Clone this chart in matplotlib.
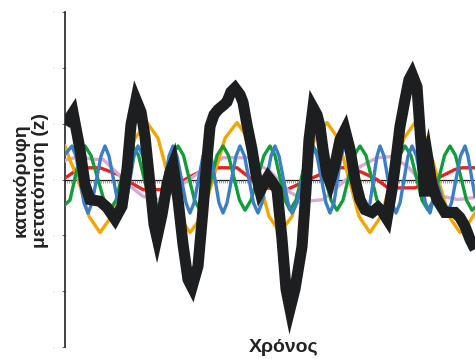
import matplotlib
matplotlib.use("Agg")
import matplotlib.pyplot as plt
import numpy as np

# time axis runs 0..410, vertical displacement in tick units (-3..3)
BLUE_T = [0, 7, 11, 15, 19, 23, 27, 31.5, 36, 40, 44, 48.5, 53, 57, 61, 65, 69, 73,
          78, 82.5, 87, 92, 96, 100, 104, 108, 112, 116.5, 121, 125, 129, 133.5, 138, 142,
          146, 150, 154, 158, 162, 166.5, 171, 175, 179.5, 184, 188.5, 193, 197, 201.5, 206, 210,
          214, 218.5, 223, 227, 232, 237.5, 243, 248, 252, 256.5, 261, 265, 269, 272.5, 276, 280,
          285.5, 291, 296.5, 302, 305, 308.5, 312, 315, 319, 323, 327, 331, 335, 339, 343, 347,
          351.5, 356, 360.5, 365, 369, 373, 377, 382, 386.5, 391, 395.5, 400, 403, 407, 410]
BLUE_Z = [0.45, 0.6, 0.42, 0, -0.42, -0.6, -0.42, 0, 0.42, 0.6, 0.42, 0, -0.42, -0.6, -0.42, 0, 0.42, 0.6,
          0.42, 0, -0.42, -0.6, -0.42, 0, 0.42, 0.6, 0.42, 0, -0.42, -0.6, -0.42, 0, 0.42, 0.6,
          0.42, 0, -0.42, -0.6, -0.42, 0, 0.42, 0.6, 0.42, 0, -0.42, -0.6, -0.42, 0, 0.42, 0.6,
          0.42, 0, -0.42, -0.6, -0.42, 0, 0.42, 0.6, 0.42, 0, -0.42, -0.6, -0.42, 0, 0.42, 0.6,
          0.42, 0, -0.42, -0.6, -0.42, 0, 0.42, 0.6, 0.42, 0, -0.42, -0.6, -0.42, 0, 0.42, 0.6,
          0.42, 0, -0.42, -0.6, -0.3, -0.1, -0.35, -0.6, -0.42, 0, 0.42, 0.6, 0.42, 0, -0.3]

GREEN_T = [0, 5, 10, 15, 20, 26, 32.5, 39, 45, 51, 56.5, 62, 68, 73.5, 79, 84.5, 90,
           96, 101.5, 107, 113, 118.5, 124, 129.5, 135, 141, 146.5, 152, 158, 163.5, 169, 174.5, 180,
           186, 192.5, 199, 205, 210, 215, 220, 225, 231, 236.5, 242, 248, 254, 260, 266, 272,
           278, 283.5, 289, 295, 301, 306.5, 312, 318, 323.5, 329, 334.5, 340, 346, 351.5, 357, 363,
           368.5, 374, 379.5, 385, 390.5, 396, 401.5, 407, 410]
GREEN_Z = [-0.45, -0.37, 0.03, 0.43, 0.6, 0.43, 0.03, -0.37, -0.55, -0.37, 0.03, 0.43, 0.6, 0.43, 0.03, -0.37, -0.55,
           -0.37, 0.03, 0.43, 0.6, 0.43, 0.03, -0.37, -0.55, -0.37, 0.03, 0.43, 0.6, 0.43, 0.03, -0.37, -0.55,
           -0.37, 0.03, 0.43, 0.6, 0.43, 0.03, -0.37, -0.55, -0.37, 0.03, 0.43, 0.6, 0.43, 0.03, -0.37, -0.55,
           -0.37, 0.03, 0.43, 0.6, 0.43, 0.03, -0.37, -0.55, -0.37, 0.03, 0.43, 0.6, 0.43, 0.03, -0.37, -0.55,
           -0.37, 0.03, 0.43, 0.6, 0.43, 0.03, -0.37, -0.55, -0.5]

ORANGE_T = [0, 6, 12.5, 24, 35, 46.5, 58.5, 70, 82, 93, 103.5, 114, 125, 137, 148.5, 160, 172,
            183, 193.5, 204, 215, 227, 238.5, 250, 262, 273, 283.5, 294, 305, 316, 327.5, 339, 350,
            361, 372.5, 384, 395, 403, 410]
ORANGE_Z = [0.6, 0.3, 0.04, -0.66, -0.95, -0.66, 0.04, 0.74, 1.02, 0.74, 0.04, -0.66, -0.95, -0.66, 0.04, 0.74, 1.02,
            0.74, 0.04, -0.66, -0.95, -0.66, 0.04, 0.74, 1.02, 0.74, 0.04, -0.66, -0.95, -0.66, 0.04, 0.74, 1.02,
            0.74, 0.04, -0.66, -0.95, -0.8, -0.6]

RED_T = [0, 2, 15, 35, 53, 65, 78, 95, 100, 115, 125, 133, 153, 172, 187, 200, 222, 238, 255,
         275, 285, 298, 312, 323, 350, 370, 390, 397, 410]
RED_Z = [0.03, 0.05, 0.21, 0.21, 0.09, -0.05, -0.18, -0.18, -0.18, -0.05, 0.05, 0.12, 0.21, 0.21, 0.0, -0.15, -0.18,
         -0.05, 0.09, 0.21, 0.21, 0.12, 0.0, -0.15, -0.15, 0.0, 0.18, 0.21, 0.21]

PINK_T = [0, 2, 15, 28, 38, 52, 65, 78, 92, 100, 120, 143, 158, 183, 197, 205, 225, 242, 258,
          278, 295, 312, 327, 343, 360, 377, 393, 410]
PINK_Z = [0.33, 0.36, 0.41, 0.36, 0.36, 0.12, -0.12, -0.3, -0.36, -0.3, -0.05, 0.23, 0.39, 0.39, 0.23, 0.15,
          -0.23, -0.39, -0.36, -0.05, 0.23, 0.39, 0.41, 0.23, -0.12, -0.3, -0.36, -0.32]

TOTAL_T = [0, 8, 15, 20, 25, 35, 42, 50, 57, 62, 66, 71, 76, 80, 85, 89, 92, 97, 102, 105,
           108, 113, 118, 123, 127, 133, 138, 142, 145, 149, 153, 159, 162, 166, 170, 175, 178, 182,
           187, 191, 195, 200, 203, 207, 212, 217, 221, 225, 230, 237, 241, 244, 248, 252, 255, 258,
           262, 265, 270, 275, 280, 285, 290, 295, 300, 307, 313, 317, 322, 327, 331, 335, 340, 344,
           347, 352, 355, 359, 360, 362, 363, 367, 372, 380, 390, 395, 400, 405, 410]
TOTAL_Z = [0.98, 1.2, 0.54, -0.09, -0.36, -0.39, -0.5, -0.71, -0.48, 0.18, 0.98, 1.43, 1.21, 0.77, -0.09,
           -0.8, -1.04, -0.63, -0.09, 0.13, 0.27, -0.36, -1.16, -1.79, -1.93, -1.55, -0.54, 0.36, 0.95,
           1.16, 1.25, 1.34, 1.39, 1.57, 1.64, 1.52, 1.38, 0.98, 0.54, 0.09, -0.21, -0.04, 0.05, -0.04,
           -0.18, -1.07, -1.96, -2.32, -1.96, -1.2, -0.18, 0.71, 1.29, 1.16, 0.95, 0.54, 0.09, -0.05,
           0.27, 0.71, 0.89, 0.54, 0.0, -0.36, -0.54, -0.59, -0.5, -0.57, -0.71, -0.18, 0.36, 0.95,
           1.43, 1.79, 1.89, 1.66, 0.89, -0.09, -0.3, 0.27, 0.36, -0.09, -0.36, -0.59, -0.59, -0.68,
           -0.84, -1.07, -1.25]

YTICKS = [-3, -2, -1, 0, 1, 2, 3]


def main() -> None:
    fig = plt.figure(figsize=(4.75, 3.59), dpi=100)
    ax = fig.add_axes([65 / 475, 12 / 359, 410 / 475, 335 / 359])

    lw = 2.4
    ax.plot(RED_T, RED_Z, color="#e8231f", lw=lw, zorder=3)
    ax.plot(PINK_T, PINK_Z, color="#d7a9d6", lw=lw, zorder=3)
    ax.plot(ORANGE_T, ORANGE_Z, color="#f5a500", lw=lw, zorder=3)
    ax.plot(GREEN_T, GREEN_Z, color="#119c3a", lw=lw, zorder=3)
    ax.plot(BLUE_T, BLUE_Z, color="#3a7ec6", lw=lw, zorder=3)
    ax.plot(TOTAL_T, TOTAL_Z, color="#1d1e20", lw=8, zorder=4,
            solid_joinstyle="miter", solid_capstyle="butt")

    ax.set_xlim(0, 410)
    ax.set_ylim(-3, 3)

    for side in ("top", "right"):
        ax.spines[side].set_visible(False)
    ax.spines["left"].set_color("#222222")
    ax.spines["left"].set_linewidth(1.2)
    ax.spines["bottom"].set_position(("data", 0))
    ax.spines["bottom"].set_color("#111111")
    ax.spines["bottom"].set_linewidth(0.9)
    ax.spines["bottom"].set_zorder(1)

    ax.set_xticks([])
    ax.set_xticks(np.arange(0, 411, 2), minor=True)
    ax.tick_params(axis="x", which="minor", direction="out", length=2,
                   width=0.5, color="#777777")

    ax.set_yticks(YTICKS)
    ax.set_yticklabels(["·"] * len(YTICKS), fontsize=4, color="#777777")
    ax.tick_params(axis="y", direction="out", length=2, width=0.8,
                   color="#666666", pad=6)

    fig.text(31 / 475, 1 - 180 / 359, "κατακόρυφη\nμετατόπιση (z)",
             rotation=90, ha="center", va="center", fontsize=14,
             fontweight="bold", family="Liberation Sans", color="#222222",
             linespacing=1.15)
    fig.text(284 / 475, 1 - 348 / 359, "Χρόνος", ha="center", va="center",
             fontsize=14, fontweight="bold", family="Liberation Sans",
             color="#222222")

    fig.savefig("out.png", dpi=100)


if __name__ == "__main__":
    main()
